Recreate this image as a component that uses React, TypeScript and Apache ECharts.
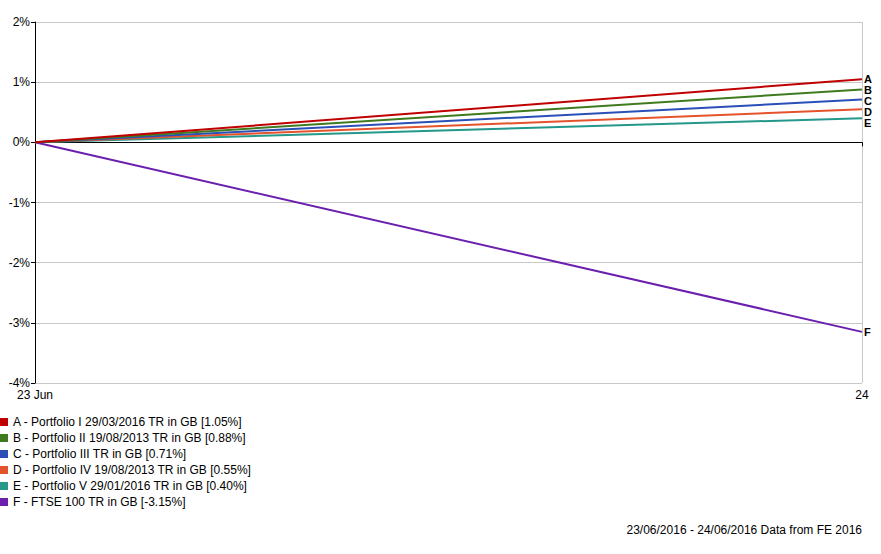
import React, { useEffect, useRef } from "react";
import * as echarts from "echarts";

const categories = ["23 Jun", "24"];
const letters = ["A", "B", "C", "D", "E", "F"];
const seriesNames = [
  "A - Portfolio I 29/03/2016 TR in GB [1.05%]",
  "B - Portfolio II 19/08/2013 TR in GB [0.88%]",
  "C - Portfolio III TR in GB [0.71%]",
  "D - Portfolio IV 19/08/2013 TR in GB [0.55%]",
  "E - Portfolio V 29/01/2016 TR in GB [0.40%]",
  "F - FTSE 100 TR in GB [-3.15%]",
];
const seriesA = [0, 1.05];
const seriesB = [0, 0.88];
const seriesC = [0, 0.71];
const seriesD = [0, 0.55];
const seriesE = [0, 0.4];
const seriesF = [0, -3.15];
const allValues = [seriesA, seriesB, seriesC, seriesD, seriesE, seriesF];
const colors = ["#c00000", "#3f7a1e", "#2a50b8", "#e4532b", "#24988a", "#6a1fae"];
const footer = "23/06/2016 - 24/06/2016 Data from FE 2016";

export default function App() {
  const ref = useRef<HTMLDivElement>(null);
  useEffect(() => {
    if (!ref.current) return;
    const chart = echarts.init(ref.current, null, { renderer: "svg" });
    const font = "Arial, 'Liberation Sans', sans-serif";
    chart.setOption({
      animation: false,
      color: colors,
      grid: { left: 35, top: 22, width: 827, height: 361, containLabel: false },
      legend: {
        orient: "vertical",
        left: 0,
        top: 416,
        padding: 0,
        itemWidth: 8,
        itemHeight: 8,
        itemGap: 4,
        icon: "rect",
        data: seriesNames,
        textStyle: { fontFamily: font, fontSize: 12, color: "#000", lineHeight: 12 },
        selectedMode: false,
      },
      xAxis: {
        type: "category",
        data: categories,
        boundaryGap: false,
        axisLine: { show: true, lineStyle: { color: "#000", width: 1 } },
        axisTick: { show: true, length: 4, lineStyle: { color: "#000" } },
        axisLabel: { fontFamily: font, fontSize: 12, color: "#000", margin: 6, lineHeight: 12 },
        splitLine: { show: true, lineStyle: { color: "#c8c8c8", width: 1 } },
      },
      yAxis: {
        type: "value",
        min: -4,
        max: 2,
        interval: 1,
        axisLine: { show: true, lineStyle: { color: "#000", width: 1 } },
        axisTick: { show: true, length: 4, lineStyle: { color: "#000" } },
        axisLabel: { fontFamily: font, fontSize: 12, color: "#000", margin: 5, formatter: "{value}%", lineHeight: 11 },
        splitLine: { show: true, lineStyle: { color: "#c8c8c8", width: 1 } },
      },
      graphic: [
        {
          type: "text",
          right: 19,
          top: 524,
          style: { text: footer, font: "12px Arial, 'Liberation Sans', sans-serif", fill: "#000" },
        },
      ],
      series: allValues.map((vals, i) => ({
        name: seriesNames[i],
        type: "line",
        data: vals,
        symbol: "none",
        lineStyle: { width: 2, color: colors[i] },
        z: 10 - i,
        endLabel: {
          show: true,
          formatter: () => letters[i],
          fontFamily: font,
          fontSize: 11,
          lineHeight: 10,
          fontWeight: "bold",
          color: "#000",
          distance: 2,
        },
        labelLayout: { moveOverlap: "shiftY" },
        markLine:
          i === 0
            ? {
                silent: true,
                symbol: "none",
                label: { show: false },
                lineStyle: { color: "#000", type: [2, 2], width: 1 },
                data: [{ yAxis: 0 }],
                z: 1,
              }
            : undefined,
      })),
    });
    return () => chart.dispose();
  }, []);
  return (
    <div
      ref={ref}
      style={{ position: "absolute", left: 0, top: 0, width: 881, height: 554, background: "#fff" }}
    />
  );
}
